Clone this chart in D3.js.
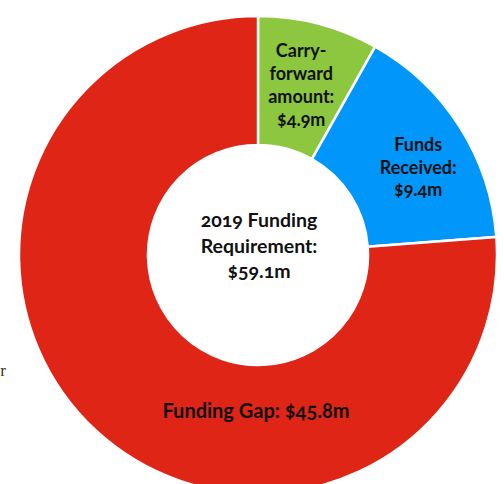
<!DOCTYPE html>
<html>
<head>
<meta charset="utf-8">
<script src="https://cdn.jsdelivr.net/npm/d3@7"></script>
<style>
  html, body { margin: 0; padding: 0; background: #fff; }
  svg { display: block; }
  text { font-family: Lato, "Open Sans", sans-serif; font-weight: bold; fill: #111; font-variant-numeric: oldstyle-nums; }
</style>
</head>
<body>
<div id="chart"></div>
<script>
// slices, clockwise from 12 o'clock
const categories = ['Carry-forward amount', 'Funds Received', 'Funding Gap'];
const amounts = [4.9, 9.4, 45.8];
const colors = ['#8dc63f', '#0096fa', '#de2516'];
const sliceLabels = [
    ['Carry-', 'forward', 'amount:', '$4.9m'],
    ['Funds', 'Received:', '$9.4m'],
    ['Funding Gap: $45.8m']
];
const centerLabel = ['2019 Funding', 'Requirement:', '$59.1m'];

const width = 504, height = 484;
const cx = 258, cy = 255;
const outerR = 239, innerR = 110;

const svg = d3.select('#chart').append('svg')
    .attr('width', width)
    .attr('height', height);

const g = svg.append('g').attr('transform', `translate(${cx},${cy})`);

const pie = d3.pie().sort(null).value(d => d);
const arc = d3.arc().innerRadius(innerR).outerRadius(outerR);
const arcs = pie(amounts);

g.selectAll('path')
    .data(arcs)
    .join('path')
    .attr('d', arc)
    .attr('fill', (d, i) => colors[i])
    .attr('stroke', '#fff')
    .attr('stroke-width', 2.5);

// label placement: centroid + nudge (the gap label sits low in the ring)
const nudge = [[-1, -1], [13, 6], [null, null]];
const lineH = [23, 22.5, 0];
const fontSz = [18, 18, 20];

arcs.forEach((a, i) => {
    let [x, y] = arc.centroid(a);
    if (i === 2) { x = -2; y = 156; }
    else { x += nudge[i][0]; y += nudge[i][1]; }
    const lines = sliceLabels[i];
    const y0 = y - (lines.length - 1) * lineH[i] / 2 + fontSz[i] * 0.35;
    const t = g.append('text')
        .attr('text-anchor', 'middle')
        .style('font-size', fontSz[i] + 'px');
    lines.forEach((s, j) => {
        t.append('tspan').attr('x', x).attr('y', y0 + j * lineH[i]).text(s);
    });
});

const ct = g.append('text')
    .attr('text-anchor', 'middle')
    .style('font-size', '19.5px');
centerLabel.forEach((s, j) => {
    ct.append('tspan').attr('x', 1).attr('y', -28 + j * 25.5).text(s);
});

// stray clipped text at the left edge
svg.append('text')
    .attr('x', 6)
    .attr('y', 376)
    .attr('text-anchor', 'end')
    .style('font-family', '"Liberation Serif", serif')
    .style('font-weight', 'normal')
    .style('font-size', '17px')
    .style('fill', '#333')
    .text('r');
</script>
</body>
</html>
